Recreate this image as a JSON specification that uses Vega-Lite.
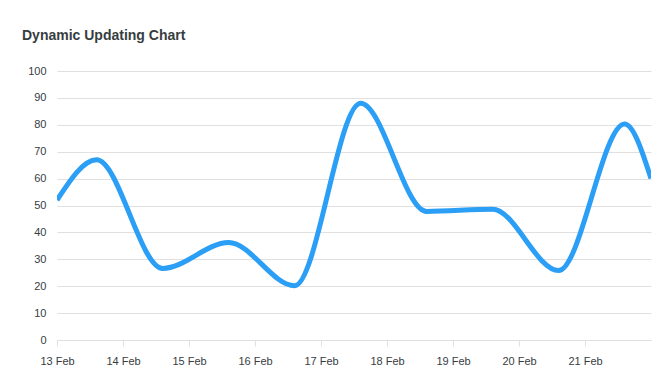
{
  "$schema": "https://vega.github.io/schema/vega-lite/v6.json",
  "width": 594,
  "height": 269,
  "autosize": {"type": "none"},
  "padding": {"left": 57, "top": 71, "right": 11, "bottom": 47},
  "background": "#ffffff",
  "title": {
    "text": "Dynamic Updating Chart",
    "anchor": "start",
    "frame": "group",
    "dx": -35,
    "offset": 11,
    "baseline": "alphabetic",
    "font": "Liberation Sans",
    "fontSize": 14,
    "fontWeight": "bold",
    "color": "#373d3f"
  },
  "data": {
    "values": [
      {"date": "2024-02-13T00:00:00Z", "value": 52},
      {"date": "2024-02-13T14:24:00Z", "value": 67},
      {"date": "2024-02-14T14:24:00Z", "value": 26.6},
      {"date": "2024-02-15T14:24:00Z", "value": 36.2},
      {"date": "2024-02-16T14:24:00Z", "value": 20.2},
      {"date": "2024-02-17T14:24:00Z", "value": 88},
      {"date": "2024-02-18T14:24:00Z", "value": 47.8},
      {"date": "2024-02-19T14:24:00Z", "value": 48.6},
      {"date": "2024-02-20T14:24:00Z", "value": 25.8},
      {"date": "2024-02-21T14:24:00Z", "value": 80.3},
      {"date": "2024-02-22T00:00:00Z", "value": 60}
    ]
  },
  "mark": {
    "type": "line",
    "interpolate": "monotone",
    "color": "#2b9ef6",
    "strokeWidth": 5,
    "clip": true
  },
  "encoding": {
    "x": {
      "field": "date",
      "type": "temporal",
      "scale": {
        "type": "utc",
        "domain": [
          {"year": 2024, "month": 2, "date": 13, "utc": true},
          {"year": 2024, "month": 2, "date": 22, "utc": true}
        ]
      },
      "axis": {
        "title": null,
        "format": "%d %b",
        "values": [
          {"year": 2024, "month": 2, "date": 13, "utc": true},
          {"year": 2024, "month": 2, "date": 14, "utc": true},
          {"year": 2024, "month": 2, "date": 15, "utc": true},
          {"year": 2024, "month": 2, "date": 16, "utc": true},
          {"year": 2024, "month": 2, "date": 17, "utc": true},
          {"year": 2024, "month": 2, "date": 18, "utc": true},
          {"year": 2024, "month": 2, "date": 19, "utc": true},
          {"year": 2024, "month": 2, "date": 20, "utc": true},
          {"year": 2024, "month": 2, "date": 21, "utc": true}
        ],
        "grid": false,
        "domainColor": "#e0e0e0",
        "tickColor": "#e0e0e0",
        "tickSize": 6,
        "labelPadding": 9,
        "labelFont": "Liberation Sans",
        "labelFontSize": 11,
        "labelColor": "#373d3f",
        "labelAngle": 0,
        "labelFlush": false
      }
    },
    "y": {
      "field": "value",
      "type": "quantitative",
      "scale": {"domain": [0, 100], "nice": false},
      "axis": {
        "title": null,
        "values": [0, 10, 20, 30, 40, 50, 60, 70, 80, 90, 100],
        "domain": false,
        "ticks": false,
        "grid": true,
        "gridColor": "#e0e0e0",
        "labelPadding": 11,
        "labelFont": "Liberation Sans",
        "labelFontSize": 11,
        "labelColor": "#373d3f"
      }
    }
  },
  "config": {
    "view": {"stroke": null}
  }
}
